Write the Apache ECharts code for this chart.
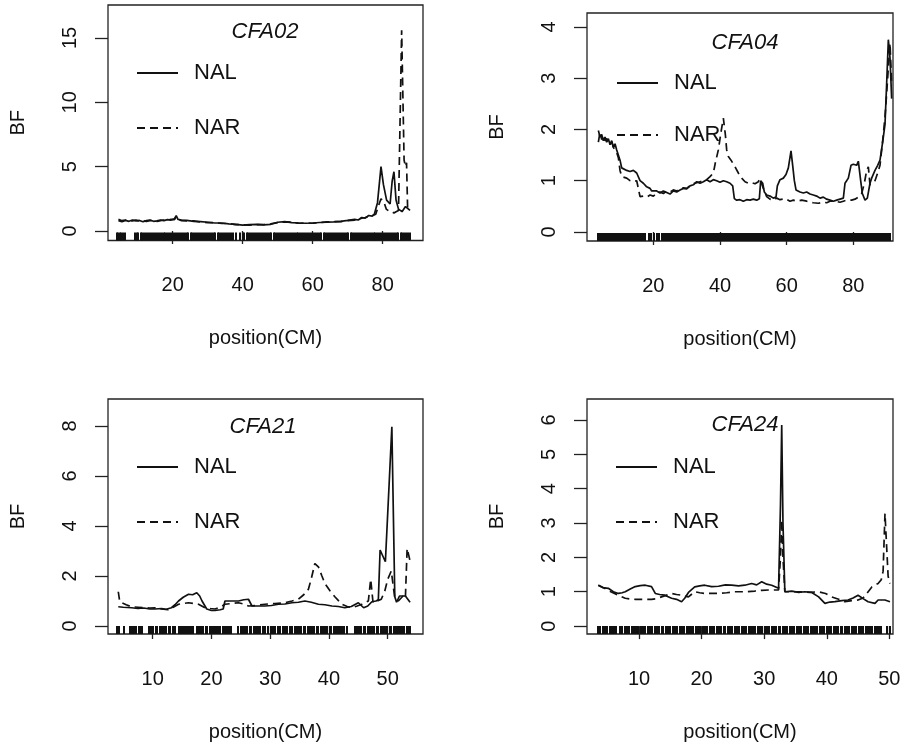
<!DOCTYPE html>
<html>
<head>
<meta charset="utf-8">
<script src="https://cdn.jsdelivr.net/npm/echarts@6/dist/echarts.min.js"></script>
<style>
html,body{margin:0;padding:0;background:#fff;}
#chart{width:903px;height:746px;}
</style>
</head>
<body>
<div id="chart"></div>
<script>
// ---------- data ----------
const panelTitles = ['CFA02', 'CFA04', 'CFA21', 'CFA24'];
const seriesNames = ['NAL', 'NAR'];
const xTicks02 = [20, 40, 60, 80];
const xTicks04 = [20, 40, 60, 80];
const xTicks21 = [10, 20, 30, 40, 50];
const xTicks24 = [10, 20, 30, 40, 50];
const yTicks02 = [0, 5, 10, 15];
const yTicks04 = [0, 1, 2, 3, 4];
const yTicks21 = [0, 2, 4, 6, 8];
const yTicks24 = [0, 1, 2, 3, 4, 5, 6];

const nal02 = [[4.5,0.8],[5.5,0.72],[6.5,0.82],[7.5,0.75],[8.5,0.85],[9.5,0.78],[10.5,0.82],[11.5,0.72],[12.5,0.8],[13.5,0.85],[14.5,0.75],[15.5,0.78],[16.5,0.85],[17.5,0.8],[18.5,0.88],[19.5,0.85],[20.5,0.95],[21,1.2],[21.5,0.9],[22.5,0.85],[24,0.82],[26,0.75],[28,0.72],[30,0.68],[32,0.62],[34,0.62],[36,0.55],[38,0.52],[40,0.45],[42,0.5],[44,0.52],[46,0.48],[48,0.52],[50,0.68],[52,0.72],[54,0.65],[56,0.62],[58,0.6],[60,0.62],[62,0.66],[64,0.68],[66,0.7],[68,0.75],[70,0.82],[72,0.9],[73,0.85],[74,1.05],[75,1.0],[76,1.2],[77,1.15],[77.6,1.3],[78.5,2.2],[79.5,5.0],[80.2,3.6],[81.1,2.4],[82.1,2.1],[82.7,3.9],[83.2,4.6],[83.8,2.4],[84.5,1.7],[85.5,1.5],[86.5,1.9],[87.8,1.6]];
const nar02 = [[4.5,0.9],[5.5,0.8],[6.5,0.85],[7.5,0.8],[8.5,0.78],[9.5,0.85],[10.5,0.75],[11.5,0.8],[12.5,0.75],[13.5,0.8],[14.5,0.82],[15.5,0.75],[16.5,0.8],[17.5,0.85],[18.5,0.82],[19.5,0.9],[20.5,0.88],[21,1.1],[21.5,0.92],[22.5,0.8],[24,0.78],[26,0.78],[28,0.7],[30,0.65],[32,0.65],[34,0.58],[36,0.58],[38,0.5],[40,0.48],[42,0.45],[44,0.5],[46,0.5],[48,0.55],[50,0.65],[52,0.7],[54,0.68],[56,0.6],[58,0.62],[60,0.6],[62,0.65],[64,0.7],[66,0.72],[68,0.72],[70,0.8],[72,0.85],[73,0.9],[74,1.0],[75,1.05],[76,1.15],[77,1.2],[78,1.3],[78.7,1.9],[79.5,2.5],[80.3,2.3],[81,1.7],[82,1.5],[82.6,1.5],[83.2,1.4],[83.8,1.5],[84.5,1.6],[85.4,15.6],[86.1,5.5],[86.5,5.0],[86.8,5.3],[87.1,1.8],[87.8,1.6]];

const nal04 = [[3.5,1.98],[4,1.85],[4.5,1.9],[5,1.78],[5.5,1.85],[6,1.75],[6.5,1.82],[7,1.7],[7.5,1.78],[8,1.65],[8.5,1.72],[9,1.6],[9.5,1.62],[10,1.4],[10.5,1.25],[11,1.22],[12,1.2],[13,1.18],[14,1.2],[15,1.15],[15.5,1.18],[16,1.0],[17,0.95],[17.5,0.98],[18,0.88],[19,0.85],[19.5,0.8],[20,0.78],[21,0.8],[22,0.76],[23,0.8],[24,0.77],[25,0.74],[26,0.8],[27,0.78],[28,0.82],[29,0.85],[30,0.84],[31,0.9],[32,0.92],[33,0.98],[34,0.95],[35,0.98],[36,1.02],[37,0.98],[38,1.02],[39,1.0],[40,0.97],[41,1.0],[42,0.98],[43,0.95],[43.8,0.9],[44.3,0.65],[45,0.62],[46,0.63],[47,0.6],[48,0.63],[49,0.62],[50,0.64],[51,0.62],[51.8,0.65],[52.2,1.0],[52.8,0.95],[53.3,0.78],[54,0.72],[55,0.7],[56,0.66],[56.8,0.68],[57.2,0.9],[58,1.02],[59,1.05],[59.8,1.12],[60.5,1.25],[61.3,1.58],[61.8,1.3],[62.3,1.0],[62.8,0.82],[64,0.78],[65,0.76],[66,0.78],[67,0.74],[68,0.72],[69,0.7],[70,0.66],[71,0.68],[72,0.64],[73,0.62],[74,0.6],[75,0.62],[76,0.64],[77,0.66],[77.5,0.95],[78.5,1.05],[79.3,1.3],[80,1.32],[81,1.3],[81.5,1.38],[82.2,1.0],[82.7,0.75],[83.5,0.62],[84.2,0.66],[85,0.95],[85.5,1.05],[86.5,1.2],[87.3,1.3],[88,1.4],[88.8,1.75],[89.5,2.1],[90,2.9],[90.5,3.75],[91,3.4],[91.5,2.6]];
const nar04 = [[3.5,1.75],[4,1.95],[4.5,1.8],[5,1.88],[5.5,1.78],[6,1.82],[7,1.72],[7.5,1.76],[8,1.65],[9,1.55],[9.5,1.45],[10,1.2],[10.5,1.08],[11,1.05],[12,1.05],[13,1.0],[14,0.98],[15,1.0],[15.6,0.98],[16,0.69],[17,0.7],[18,0.68],[19,0.72],[20,0.7],[21,0.75],[22,0.78],[23,0.75],[24,0.8],[25,0.78],[26,0.82],[27,0.8],[28,0.84],[29,0.86],[30,0.85],[31,0.9],[32,0.94],[33,0.96],[34,0.98],[35,1.0],[36,1.02],[37,1.08],[38,1.15],[38.6,1.35],[39.5,1.6],[40.3,1.95],[41,2.22],[41.6,1.9],[42,1.6],[42.5,1.47],[43.3,1.4],[44.5,1.27],[45.5,1.15],[46.5,1.05],[47.5,0.98],[48.5,0.95],[49.5,0.96],[50.5,0.94],[51.5,0.98],[52,1.04],[53,0.85],[54,0.69],[55,0.64],[56,0.62],[57,0.66],[58,0.63],[59.5,0.65],[61,0.6],[62,0.62],[63,0.6],[64.5,0.62],[66,0.6],[67,0.58],[68,0.57],[69.5,0.56],[71,0.58],[72,0.57],[73,0.6],[74.5,0.6],[76,0.58],[77,0.6],[78,0.62],[79.5,0.62],[80.5,0.64],[81.5,0.68],[82.5,0.75],[83.3,0.95],[84,1.2],[84.5,1.27],[85,0.92],[85.7,0.95],[86.5,1.0],[87.3,1.15],[88,1.3],[88.5,1.6],[89,1.9],[89.5,2.25],[90,2.7],[90.5,3.2],[91,3.68],[91.5,2.9]];

const nal21 = [[4.15,0.77],[5,0.75],[6.4,0.73],[7.5,0.7],[8.5,0.72],[9.5,0.68],[10.4,0.68],[11.5,0.7],[12.3,0.67],[13.2,0.73],[13.8,0.85],[14.4,1.0],[15.2,1.15],[16.1,1.27],[16.8,1.25],[17.5,1.33],[18,1.2],[18.4,1.0],[19.2,0.68],[20,0.62],[20.6,0.62],[21.5,0.65],[22,0.68],[22.3,1.0],[22.6,1.07],[23.5,1.0],[24.6,1.0],[25.5,1.05],[26.3,1.07],[26.9,0.8],[28,0.8],[29.1,0.8],[30.2,0.82],[31.4,0.87],[32.5,0.88],[33.7,0.93],[34.8,0.95],[35.9,1.0],[37,0.95],[38.2,0.87],[39.3,0.85],[40.5,0.8],[41.6,0.78],[42.7,0.73],[43.8,0.78],[45,0.93],[45.9,0.73],[46.6,0.8],[47.3,0.97],[48,1.0],[48.4,1.05],[48.7,3.04],[49.6,2.57],[50.2,5.5],[50.7,7.97],[51.2,1.17],[51.5,0.95],[52,1.2],[53,1.2],[53.8,0.95]];
const nar21 = [[4.15,1.37],[4.4,0.97],[5.5,0.85],[6.4,0.77],[7.5,0.75],[8.5,0.73],[9.5,0.72],[10.4,0.73],[11.5,0.68],[12.6,0.65],[13.5,0.75],[14.4,0.87],[15.2,0.9],[16.1,0.93],[17,0.9],[17.8,0.87],[18.9,0.73],[19.8,0.7],[20.6,0.68],[21.5,0.75],[22.3,0.87],[23.5,0.9],[24.6,0.93],[25.5,0.88],[26.3,0.8],[27.5,0.82],[29.1,0.87],[30.8,0.9],[32.5,0.93],[33.7,1.0],[34.8,1.07],[35.7,1.25],[36.5,1.47],[37,1.9],[37.6,2.5],[38.2,2.37],[38.8,2.0],[39.3,1.7],[40.2,1.4],[41,1.17],[42.2,0.87],[43.1,0.78],[43.9,0.73],[44.8,0.8],[45.6,0.87],[46.7,1.0],[47.1,1.87],[47.5,0.93],[48.2,1.0],[48.9,1.07],[49.5,1.4],[50,1.87],[50.6,2.2],[51.2,1.13],[51.8,1.0],[52.6,1.2],[53.0,1.1],[53.3,3.1],[53.8,2.6]];

const nal24 = [[3.5,1.19],[4.2,1.12],[5.1,1.1],[5.9,1.0],[6.7,0.95],[7.3,0.97],[7.8,1.0],[8.6,1.08],[9.4,1.15],[10.2,1.18],[11,1.19],[12,1.15],[12.6,0.95],[13.3,0.92],[14.1,0.9],[15.2,0.81],[16,0.78],[16.8,0.71],[17.3,0.81],[17.9,0.98],[18.9,1.14],[19.7,1.17],[20.5,1.19],[21.6,1.15],[22.7,1.16],[23.8,1.2],[24.8,1.19],[25.9,1.17],[26.9,1.19],[28,1.24],[28.8,1.2],[29.6,1.29],[30.4,1.22],[31.2,1.19],[32.3,1.1],[32.6,3.5],[32.8,5.85],[33.0,3.0],[33.3,1.0],[34.4,1.02],[35.5,0.98],[36.5,1.0],[37.6,0.98],[38.7,0.85],[39.7,0.66],[40.5,0.7],[41.3,0.71],[42.4,0.74],[43.4,0.76],[44.2,0.82],[45,0.9],[45.8,0.8],[46.6,0.71],[47.7,0.66],[48.2,0.76],[49.3,0.76],[50.1,0.71]];
const nar24 = [[3.5,1.19],[4.5,1.1],[5.5,1.0],[6.7,0.9],[7.8,0.81],[8.6,0.79],[9.4,0.78],[10.5,0.78],[12,0.78],[12.8,0.8],[13.6,0.85],[14.4,0.9],[15.2,0.95],[16,0.92],[16.8,0.9],[17.9,0.85],[18.9,1.0],[19.7,0.97],[20.5,0.95],[21.6,0.95],[22.7,0.95],[24,0.97],[25.3,1.0],[26.9,1.0],[28.5,1.02],[29.6,1.04],[30.7,1.05],[32.3,1.05],[32.6,2.0],[32.8,3.09],[33.0,2.0],[33.3,1.0],[34.6,1.0],[36,1.0],[37.3,0.98],[38.7,1.0],[39.8,0.95],[40.8,0.85],[41.9,0.78],[42.9,0.71],[44,0.74],[45,0.76],[45.8,0.82],[46.4,0.95],[47.2,1.14],[48.2,1.24],[48.7,1.35],[49.0,1.6],[49.3,3.28],[49.8,1.45],[50.1,1.24]];

// marker positions (rug)
const rug02 = [4.1,4.5,4.9,5.3,5.8,6.5,9.2,9.7,10.2,10.8,11.3,11.9,12.4,13.0,13.5,14.1,14.6,15.2,15.7,16.3,16.8,17.4,17.9,18.5,19.0,19.6,20.1,20.7,21.2,21.8,22.3,22.9,23.4,24.0,24.5,25.1,25.6,26.2,26.7,27.3,27.8,28.4,28.9,29.5,30.0,30.6,31.1,31.7,32.2,32.8,33.3,33.9,34.4,35.0,35.5,36.1,36.6,37.2,38.0,39.2,40.0,40.5,41.1,41.6,42.2,42.7,43.3,43.8,44.4,44.9,45.5,46.0,46.6,47.1,47.7,48.2,48.8,49.3,49.9,50.4,51.0,51.5,52.1,52.6,53.2,53.7,54.3,54.8,55.4,55.9,56.5,57.0,57.6,58.1,58.7,59.2,59.8,60.3,60.9,61.4,62.0,62.5,63.1,63.6,64.2,64.7,65.3,65.8,66.4,66.9,67.5,68.0,68.6,69.1,69.7,70.2,70.8,71.3,71.9,72.4,73.0,73.5,74.1,74.6,75.2,75.7,76.3,76.8,77.4,77.9,78.5,79.0,79.6,80.1,80.7,81.2,81.8,82.3,82.9,83.4,84.0,84.5,85.1,85.6,86.2,86.7,87.3,87.8];
const rug04 = [3.4,3.9,4.4,4.9,5.4,5.9,6.4,6.9,7.4,7.9,8.4,8.9,9.4,9.9,10.4,10.9,11.4,11.9,12.4,12.9,13.4,13.9,14.4,14.9,15.4,15.9,16.4,16.9,17.5,18.6,19.2,20.3,21.0,21.8,22.6,23.2,23.8,24.4,25.0,25.6,26.2,26.8,27.4,28.0,28.6,29.2,29.8,30.4,31.0,31.6,32.2,32.8,33.4,34.0,34.6,35.2,35.8,36.4,37.0,37.6,38.2,38.8,39.4,40.0,40.6,41.2,41.8,42.4,43.0,43.6,44.2,44.8,45.4,46.0,46.6,47.2,47.8,48.4,49.0,49.6,50.2,50.8,51.4,52.0,52.6,53.2,53.8,54.4,55.0,55.6,56.2,56.8,57.4,58.0,58.6,59.2,59.8,60.4,61.0,61.6,62.2,62.8,63.4,64.0,64.6,65.2,65.8,66.4,67.0,67.6,68.2,68.8,69.4,70.0,70.6,71.2,71.8,72.4,73.0,73.6,74.2,74.8,75.4,76.0,76.6,77.2,77.8,78.4,79.0,79.6,80.2,80.8,81.4,82.0,82.6,83.2,83.8,84.4,85.0,85.6,86.2,86.8,87.4,88.0,88.6,89.2,89.8,90.4,91.0];
const rug21 = [4.0,4.3,5.2,6.1,6.5,6.9,7.2,7.6,8.0,8.2,9.4,9.7,10.1,10.5,10.8,11.2,11.6,11.9,12.3,12.7,13.0,13.4,13.8,14.4,14.8,15.1,15.5,15.9,16.2,16.6,16.9,17.5,17.9,18.2,18.6,19.0,19.3,19.7,20.1,20.4,20.8,21.2,21.5,21.9,22.3,22.6,23.0,23.4,24.6,25.0,25.4,25.7,26.1,26.5,26.8,27.2,27.6,27.9,28.3,28.7,29.1,29.7,30.1,30.5,30.9,31.3,31.7,32.1,32.5,32.9,33.3,33.7,34.2,34.6,34.9,35.3,35.7,36.0,36.4,36.8,37.1,37.5,37.9,38.2,38.6,39.0,39.3,39.7,40.1,40.4,40.8,41.2,41.5,41.9,42.3,42.6,43.0,44.4,44.8,45.1,45.5,45.9,46.2,46.6,47.0,47.3,47.7,48.1,48.4,48.8,49.2,49.5,49.9,50.3,50.6,51.0,51.4,51.7,52.1,52.5,52.8,53.2,53.5,53.8];
const rug24 = [3.5,3.8,4.2,4.6,4.9,5.3,5.7,6.0,6.4,7.0,7.3,7.7,8.1,8.4,8.8,9.2,9.5,9.9,10.3,10.6,11.0,11.4,11.7,12.1,12.5,12.8,13.2,13.6,13.9,14.3,14.7,15.0,15.4,15.8,16.1,16.5,16.9,17.2,17.6,18.0,18.3,18.7,19.1,19.4,19.8,20.2,20.5,20.9,21.3,21.6,22.0,22.4,22.7,23.1,23.5,23.8,24.2,24.6,24.9,25.3,25.7,26.0,26.4,26.8,27.1,27.5,27.9,28.2,28.6,29.0,29.3,29.7,30.1,30.4,30.8,31.2,31.5,31.9,32.3,32.6,33.0,33.4,33.7,34.1,34.5,34.8,35.2,35.6,35.9,36.3,36.7,37.0,37.4,37.8,38.1,38.5,38.9,39.2,39.6,40.0,40.3,40.7,41.1,41.4,41.8,42.2,42.5,42.9,43.3,43.6,44.0,44.4,44.7,45.1,45.5,45.8,46.2,46.6,46.9,47.3,47.7,48.0,48.4,48.7,49.6,50.1];

// ---------- layout / styling ----------
const FONT = '"Liberation Sans", Arial, Helvetica, sans-serif';
const panels = [
  {title: panelTitles[0], nal: nal02, nar: nar02, rug: rug02, xt: xTicks02, yt: yTicks02,
   box: {left: 108, top: 5, width: 315, height: 235.5}, x: [1.51, 91.5], y: [-0.74, 17.56],
   titlePos: [265, 21], legendPos: [136, 62], legendGap: 33},
  {title: panelTitles[1], nal: nal04, nar: nar04, rug: rug04, xt: xTicks04, yt: yTicks04,
   box: {left: 587, top: 13, width: 306, height: 228}, x: [0.09, 91.9], y: [-0.176, 4.27],
   titlePos: [745, 32], legendPos: [616, 72], legendGap: 30},
  {title: panelTitles[2], nal: nal21, nar: nar21, rug: rug21, xt: xTicks21, yt: yTicks21,
   box: {left: 108, top: 399, width: 315, height: 235}, x: [2.4, 56.0], y: [-0.32, 9.08],
   titlePos: [263, 416], legendPos: [136, 456], legendGap: 33},
  {title: panelTitles[3], nal: nal24, nar: nar24, rug: rug24, xt: xTicks24, yt: yTicks24,
   box: {left: 587, top: 399, width: 306, height: 235}, x: [1.69, 50.58], y: [-0.23, 6.61],
   titlePos: [745, 414], legendPos: [615, 456], legendGap: 33}
];

const option = {
  animation: false,
  backgroundColor: '#ffffff',
  textStyle: {fontFamily: FONT, color: '#111'},
  title: [], legend: [], grid: [], xAxis: [], yAxis: [], series: []
};

panels.forEach((p, i) => {
  option.grid.push(Object.assign({show: true, borderColor: '#222', borderWidth: 1.3,
    backgroundColor: 'transparent', containLabel: false, outerBoundsMode: 'none'}, p.box));
  option.title.push({text: p.title, left: p.titlePos[0], top: p.titlePos[1], textAlign: 'center', padding: 0,
    textStyle: {fontFamily: FONT, fontStyle: 'italic', fontWeight: 'normal', fontSize: 22, color: '#111'}});
  option.legend.push({data: seriesNames, orient: 'vertical', left: p.legendPos[0], top: p.legendPos[1],
    itemWidth: 41, itemHeight: 20, itemGap: p.legendGap, selectedMode: false, padding: 0,
    itemStyle: {opacity: 0},
    textStyle: {fontFamily: FONT, fontSize: 22, color: '#111', padding: [0, 0, 0, 11], lineHeight: 20}});
  option.xAxis.push({type: 'value', gridIndex: i, min: p.x[0], max: p.x[1],
    name: 'position(CM)', nameLocation: 'middle', nameGap: 88,
    nameTextStyle: {fontFamily: FONT, fontSize: 20, color: '#111'},
    axisLine: {show: false}, splitLine: {show: false},
    axisTick: {show: true, length: 13, customValues: p.xt, lineStyle: {color: '#222', width: 1.3}},
    axisLabel: {show: true, customValues: p.xt, margin: 35, fontSize: 20, lineHeight: 20, color: '#111', fontFamily: FONT}});
  option.yAxis.push({type: 'value', gridIndex: i, min: p.y[0], max: p.y[1],
    name: 'BF', nameLocation: 'middle', nameGap: 80, nameRotate: 90,
    nameTextStyle: {fontFamily: FONT, fontSize: 20, color: '#111'},
    axisLine: {show: false}, splitLine: {show: false},
    axisTick: {show: true, length: 13, customValues: p.yt, lineStyle: {color: '#222', width: 1.3}},
    axisLabel: {show: true, customValues: p.yt, rotate: 90, margin: 28, fontSize: 20, lineHeight: 20, color: '#111', fontFamily: FONT}});
  option.series.push({type: 'line', name: seriesNames[0], xAxisIndex: i, yAxisIndex: i, data: p.nal,
    symbol: 'none', showSymbol: false, lineStyle: {color: '#111', width: 1.7, type: 'solid'}, itemStyle: {color: '#111'}});
  option.series.push({type: 'line', name: seriesNames[1], xAxisIndex: i, yAxisIndex: i, data: p.nar,
    symbol: 'none', showSymbol: false, lineStyle: {color: '#111', width: 1.7, type: [8, 5]}, itemStyle: {color: '#111'}});
  const yMin = p.y[0];
  option.series.push({type: 'custom', xAxisIndex: i, yAxisIndex: i, silent: true, clip: false,
    data: p.rug.map(v => [v, yMin]),
    renderItem: function (params, api) {
      const pt = api.coord([api.value(0), api.value(1)]);
      return {type: 'rect', shape: {x: Math.round(pt[0]) - 1, y: pt[1] - 8, width: 2, height: 8},
        style: {fill: '#111'}};
    }});
});

const chart = echarts.init(document.getElementById('chart'), null, {renderer: 'canvas'});
chart.setOption(option);
</script>
</body>
</html>
